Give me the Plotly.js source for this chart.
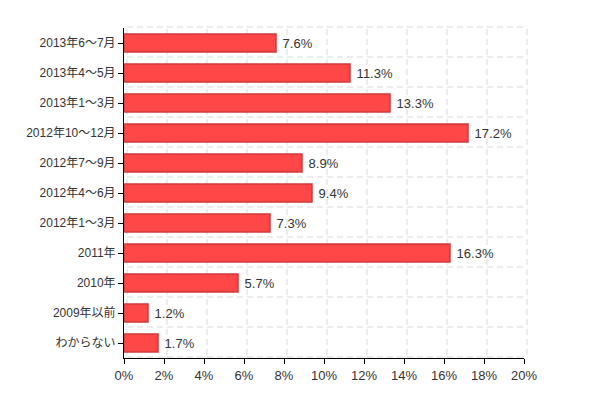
<!DOCTYPE html>
<html>
<head>
<meta charset="utf-8">
<script src="https://cdn.plot.ly/plotly-3.0.1.min.js"></script>
<style>html,body{margin:0;padding:0;background:#fff;}#chart{width:598px;height:398px;}</style>
</head>
<body>
<div id="chart"></div>
<script>
const categories = ["2013年6～7月","2013年4～5月","2013年1～3月","2012年10～12月","2012年7～9月","2012年4～6月","2012年1～3月","2011年","2010年","2009年以前","わからない"];
const values = [7.6, 11.3, 13.3, 17.2, 8.9, 9.4, 7.3, 16.3, 5.7, 1.2, 1.7];
const xTicks = [0,2,4,6,8,10,12,14,16,18,20];
const xTickLabels = xTicks.map(v => v + "%");

const xMax = 20;
const nCat = categories.length;
const shiftX = 0.0075;   // 3px back-wall offset
const shiftY = 1/330;
const shapes = [];
xTicks.forEach(v => {
  shapes.push({type:'line', xref:'paper', yref:'paper', layer:'below',
    x0: v/xMax + shiftX, x1: v/xMax + shiftX, y0: 0.009, y1: 1 + shiftY,
    line:{color:'#d9d9d9', width:1, dash:'6px,4px'}});
});
for (let k = 0; k <= nCat; k++) {
  const y = k/nCat + shiftY;
  shapes.push({type:'line', xref:'paper', yref:'paper', layer:'below',
    x0: shiftX, x1: 1 + shiftX, y0: y, y1: y,
    line:{color:'#d9d9d9', width:1, dash:'6px,4px'}});
}

const trace = {
  type:'bar', orientation:'h',
  x: values, y: categories,
  marker:{color:'#ff4747', line:{color:'#d03a3a', width:1.5}},
  text: values.map(v => " " + v.toFixed(1) + "%"),
  textposition:'outside',
  textfont:{family:'Arial, Liberation Sans, sans-serif', size:13, color:'#333'},
  cliponaxis:false,
  hoverinfo:'none'
};

const layout = {
  width:598, height:398,
  margin:{l:124, r:74, t:28, b:40},
  paper_bgcolor:'#fff', plot_bgcolor:'rgba(0,0,0,0)',
  showlegend:false,
  bargap:0.4,
  font:{family:'Arial, Liberation Sans, "Noto Sans CJK JP", sans-serif', size:12, color:'#333'},
  xaxis:{range:[0,xMax], tickvals:xTicks, ticktext:xTickLabels, showgrid:false, zeroline:false,
    showline:true, linecolor:'#000', linewidth:1, ticks:'outside', ticklen:5, tickcolor:'#000',
    tickfont:{size:13, color:'#333'}, fixedrange:true},
  yaxis:{type:'category', autorange:'reversed', showgrid:false, zeroline:false,
    showline:true, linecolor:'#000', linewidth:1, ticks:'outside', ticklen:5, tickcolor:'#000',
    tickfont:{size:12, color:'#333'}, ticklabelstandoff:0, fixedrange:true},
  shapes: shapes
};

Plotly.newPlot('chart', [trace], layout, {displayModeBar:false, staticPlot:true});
</script>
</body>
</html>
